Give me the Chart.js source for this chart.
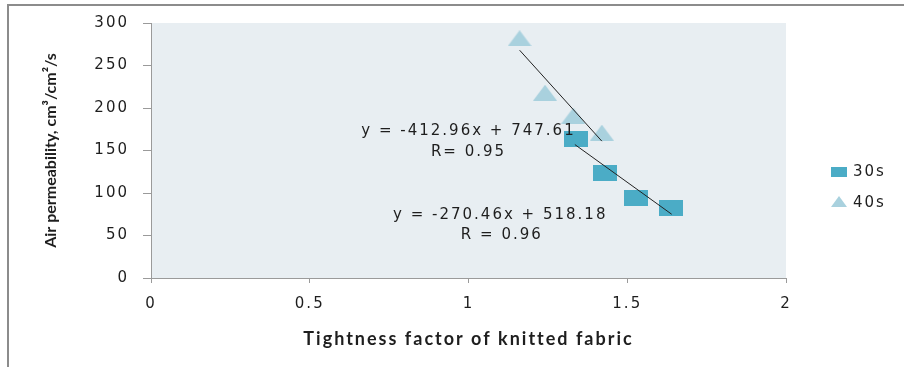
<!DOCTYPE html>
<html>
<head>
<meta charset="utf-8">
<script src="https://cdn.jsdelivr.net/npm/chart.js@4.4.1/dist/chart.umd.min.js"></script>
<style>
html,body{margin:0;padding:0;background:#fff;}
#wrap{position:relative;width:904px;height:367px;}
canvas{display:block;}
</style>
</head>
<body>
<div id="wrap"><canvas id="c"></canvas></div>
<script>
// ---- data ----
const seriesNames = ['30s', '40s'];
const x30 = [1.339, 1.429, 1.529, 1.639];
const y30 = [164, 123.5, 94, 82];
const x40 = [1.161, 1.241, 1.330, 1.420];
const y40 = [282, 218, 191, 171];
const trend30X = [1.335, 1.640];
const trend30Y = [157, 75];
const trend40X = [1.161, 1.420];
const trend40Y = [268, 161];
const xTickValues = [0, 0.5, 1, 1.5, 2];
const yTickValues = [0, 50, 100, 150, 200, 250, 300];
const eq40Text = ['y = -412.96x + 747.61', 'R= 0.95'];
const eq30Text = ['y = -270.46x + 518.18', 'R = 0.96'];
const xTitle = 'Tightness factor of knitted fabric';
const yTitle = 'Air permeability, cm\u00B3/cm\u00B2/s';

// ---- styles ----
const col30 = '#4BACC6';
const col40 = '#A9D1DE';
const plotBg = '#E8EEF2';
const axisCol = '#9a9a9a';
const textCol = '#1e1e1e';

function rectStyle(w, h, color) {
  const c = document.createElement('canvas');
  c.width = w; c.height = h;
  const g = c.getContext('2d');
  g.fillStyle = color; g.fillRect(0, 0, w, h);
  return c;
}
function triStyle(w, h, color) {
  const c = document.createElement('canvas');
  c.width = w; c.height = h;
  const g = c.getContext('2d');
  g.fillStyle = color;
  g.beginPath(); g.moveTo(w / 2, 0); g.lineTo(w, h); g.lineTo(0, h); g.closePath(); g.fill();
  return c;
}
const sqMarker = rectStyle(24, 16, col30);
const triMarker = triStyle(24, 16, col40);
const sqLegend = rectStyle(16, 10, col30);
const triLegend = triStyle(16, 11, col40);

const pts = (xs, ys) => xs.map((x, i) => ({x: x, y: ys[i]}));

const deco = {
  id: 'deco',
  beforeDraw(chart) {
    const {ctx, chartArea: a} = chart;
    ctx.save();
    ctx.fillStyle = '#fff';
    ctx.fillRect(0, 0, chart.width, chart.height);
    ctx.strokeStyle = '#8c8c8c';
    ctx.lineWidth = 2;
    ctx.beginPath();
    ctx.moveTo(8, chart.height); ctx.lineTo(8, 5); ctx.lineTo(chart.width, 5);
    ctx.stroke();
    ctx.fillStyle = plotBg;
    ctx.fillRect(a.left, a.top, a.right - a.left, a.bottom - a.top);
    ctx.restore();
    // wide text for tick labels and x title
    ctx.letterSpacing = '2px';
  },
  afterDatasetsDraw(chart) {
    // y title (drawn in a later layer) without extra spacing
    chart.ctx.letterSpacing = '0px';
  },
  afterDraw(chart) {
    const {ctx, chartArea: a} = chart;
    const xs = chart.scales.x, ys = chart.scales.y;
    ctx.save();
    ctx.letterSpacing = '2px';
    ctx.fillStyle = textCol;
    ctx.font = '15px "DejaVu Sans"';
    ctx.textAlign = 'center';
    ctx.textBaseline = 'middle';
    ctx.fillText(eq40Text[0], xs.getPixelForValue(1.0), ys.getPixelForValue(173));
    ctx.fillText(eq40Text[1], xs.getPixelForValue(1.0), ys.getPixelForValue(148));
    ctx.fillText(eq30Text[0], xs.getPixelForValue(1.1), ys.getPixelForValue(74));
    ctx.fillText(eq30Text[1], xs.getPixelForValue(1.105), ys.getPixelForValue(50.5));
    // legend
    const lx = a.right + 45;
    ctx.drawImage(sqLegend, lx, 167);
    ctx.drawImage(triLegend, lx, 196);
    ctx.textAlign = 'left';
    ctx.fillText(seriesNames[0], lx + 22, 172);
    ctx.fillText(seriesNames[1], lx + 22, 203);
    ctx.restore();
    ctx.letterSpacing = '0px';
  }
};

new Chart(document.getElementById('c'), {
  type: 'scatter',
  data: {
    datasets: [
      {label: 'trend40', data: pts(trend40X, trend40Y), showLine: true, pointRadius: 0, borderColor: '#222', borderWidth: 1, fill: false},
      {label: 'trend30', data: pts(trend30X, trend30Y), showLine: true, pointRadius: 0, borderColor: '#222', borderWidth: 1, fill: false},
      {label: seriesNames[0], data: pts(x30, y30), pointStyle: sqMarker, pointRadius: 12, backgroundColor: col30, borderColor: col30},
      {label: seriesNames[1], data: pts(x40, y40), pointStyle: triMarker, pointRadius: 12, backgroundColor: col40, borderColor: col40}
    ]
  },
  options: {
    responsive: true,
    maintainAspectRatio: false,
    animation: false,
    events: [],
    layout: {padding: {top: 23, right: 118, bottom: 0, left: 0}},
    plugins: {legend: {display: false}, tooltip: {enabled: false}},
    scales: {
      x: {
        type: 'linear', min: 0, max: 2,
        afterBuildTicks: (s) => { s.ticks = xTickValues.map(v => ({value: v})); },
        afterFit: (s) => { s.height = 89; },
        grid: {drawOnChartArea: false, drawTicks: true, tickLength: 5, color: axisCol},
        border: {display: true, color: axisCol, width: 1},
        ticks: {color: textCol, font: {family: 'DejaVu Sans', size: 15}, padding: 12, maxRotation: 0,
          callback: (v) => String(v)},
        title: {display: true, text: xTitle, color: textCol, font: {family: 'Lato', size: 18, weight: 'bold'}, padding: {top: 0, bottom: 17}}
      },
      y: {
        type: 'linear', min: 0, max: 300,
        afterBuildTicks: (s) => { s.ticks = yTickValues.map(v => ({value: v})); },
        afterFit: (s) => { s.width = 151; },
        grid: {drawOnChartArea: false, drawTicks: true, tickLength: 8, color: axisCol, z: 1},
        border: {display: true, color: axisCol, width: 1, z: 1},
        ticks: {color: textCol, font: {family: 'DejaVu Sans', size: 15}, padding: 14,
          callback: (v) => String(v)},
        title: {display: true, text: yTitle, color: textCol, font: {family: 'Lato', size: 16, weight: 'bold'}, padding: {top: 41, bottom: 0}}
      }
    }
  },
  plugins: [deco]
});
</script>
</body>
</html>
